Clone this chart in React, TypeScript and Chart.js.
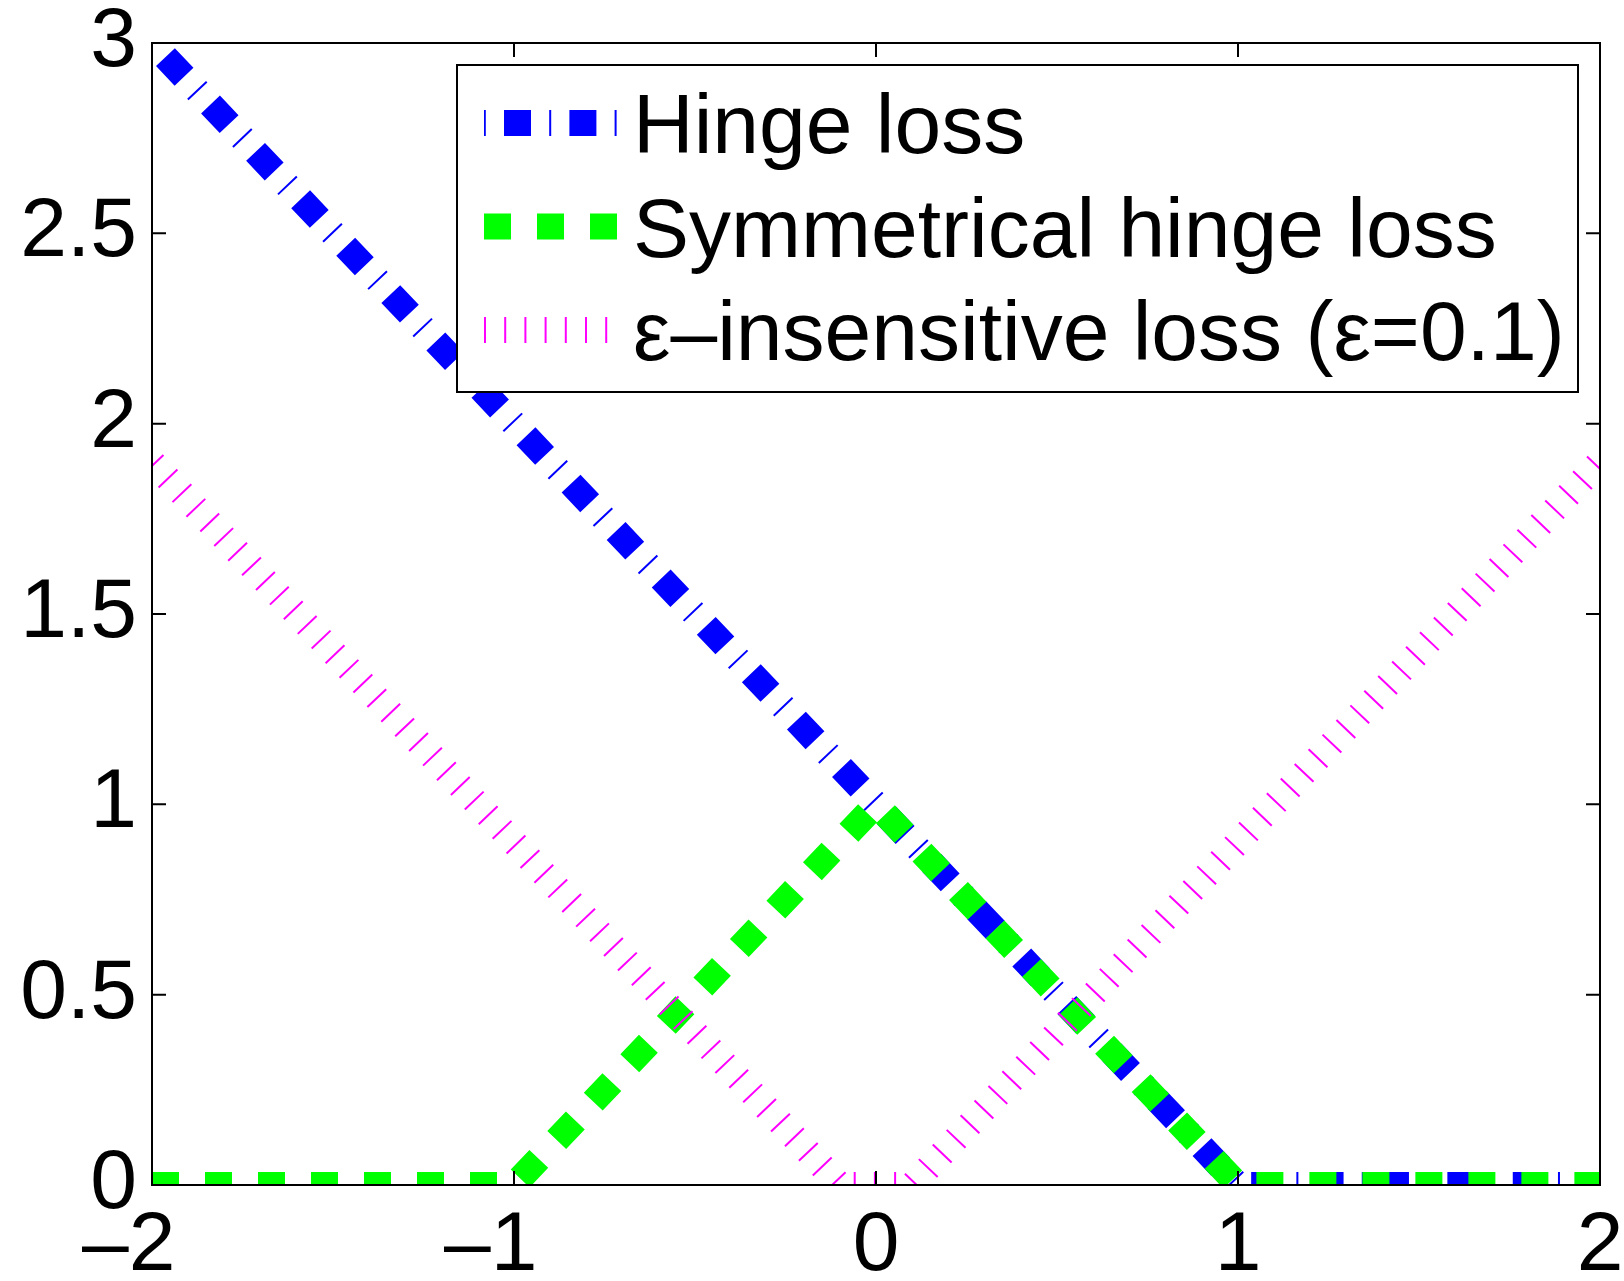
import React, { useEffect, useRef } from 'react';
import { Chart, registerables } from 'chart.js';

Chart.register(...registerables);

// ---- data ----
const seriesLabels = ['Hinge loss', 'Symmetrical hinge loss', 'ε–insensitive loss (ε=0.1)'];
const hingeX = [-2, 1, 2];
const hingeY = [3, 0, 0];
const symX = [-2, -1, 0, 1, 2];
const symY = [0, 0, 1, 0, 0];
const epsX = [-2, -0.1, 0.1, 2];
const epsY = [1.9, 0, 0, 1.9];
const xTicks = [-2, -1, 0, 1, 2];
const xTickLabels = ['–2', '–1', '0', '1', '2'];
const yTicks = [0, 0.5, 1, 1.5, 2, 2.5, 3];
const yTickLabels = ['0', '0.5', '1', '1.5', '2', '2.5', '3'];

const FONT = '"Liberation Sans", Arial, Helvetica, sans-serif';
const toPts = (xs: number[], ys: number[]) => xs.map((x, i) => ({ x, y: ys[i] }));

const legendPhase = [45.4, 0, 0];

const framePlugin = {
  id: 'matlabFrame',
  afterDatasetsDraw(chart: any) {
    const { ctx, chartArea: a, scales } = chart;
    const xs = scales.x;
    const ys = scales.y;
    ctx.save();
    ctx.strokeStyle = '#000';
    ctx.lineWidth = 2;
    ctx.lineCap = 'butt';
    ctx.setLineDash([]);
    ctx.beginPath();
    const tl = 14;
    for (const t of xs.ticks) {
      const px = xs.getPixelForValue(t.value);
      ctx.moveTo(px, a.bottom);
      ctx.lineTo(px, a.bottom - tl);
      ctx.moveTo(px, a.top);
      ctx.lineTo(px, a.top + tl);
    }
    for (const t of ys.ticks) {
      const py = ys.getPixelForValue(t.value);
      ctx.moveTo(a.left, py);
      ctx.lineTo(a.left + tl, py);
      ctx.moveTo(a.right, py);
      ctx.lineTo(a.right - tl, py);
    }
    ctx.stroke();
    ctx.strokeRect(a.left, a.top, a.right - a.left, a.bottom - a.top);

    // legend box (inside the axes, like MATLAB's "northeast" legend)
    const bx = a.left + 305;
    const by = a.top + 22;
    const bw = 1121;
    const bh = 327;
    ctx.fillStyle = '#fff';
    ctx.fillRect(bx, by, bw, bh);
    ctx.strokeRect(bx, by, bw, bh);
    const sx0 = bx + 27;
    const sx1 = bx + 161;
    const tx = bx + 176;
    chart.data.datasets.forEach((ds: any, i: number) => {
      const ry = by + 58 + i * 103.5;
      ctx.save();
      ctx.beginPath();
      ctx.strokeStyle = ds.borderColor;
      ctx.lineWidth = ds.borderWidth;
      ctx.lineCap = 'butt';
      ctx.setLineDash(ds.borderDash);
      ctx.lineDashOffset = legendPhase[i];
      ctx.moveTo(sx0, ry);
      ctx.lineTo(sx1, ry);
      ctx.stroke();
      ctx.restore();
      ctx.fillStyle = '#000';
      ctx.font = `84px ${FONT}`;
      ctx.textAlign = 'left';
      ctx.textBaseline = 'alphabetic';
      ctx.fillText(ds.label, tx, ry + 30);
    });
    ctx.restore();
  },
};

const zeroPad = (s: any) => {
  s.paddingLeft = 0;
  s.paddingRight = 0;
  s.paddingTop = 0;
  s.paddingBottom = 0;
};

export default function App() {
  const canvasRef = useRef<HTMLCanvasElement | null>(null);

  useEffect(() => {
    if (!canvasRef.current) return;
    const chart = new Chart(canvasRef.current, {
      type: 'line',
      data: {
        datasets: [
          {
            label: seriesLabels[0],
            data: toPts(hingeX, hingeY),
            borderColor: 'rgb(0,0,255)',
            borderWidth: 26,
            borderDash: [27, 18.2, 2, 18.2],
            borderDashOffset: 45.9,
            order: 3,
          },
          {
            label: seriesLabels[1],
            data: toPts(symX, symY),
            borderColor: 'rgb(0,255,0)',
            borderWidth: 26,
            borderDash: [27, 26],
            borderDashOffset: 0,
            order: 2,
          },
          {
            label: seriesLabels[2],
            data: toPts(epsX, epsY),
            borderColor: 'rgb(255,0,255)',
            borderWidth: 26,
            borderDash: [2, 18.2],
            borderDashOffset: 18.2,
            order: 1,
          },
        ].map((d) => ({
          ...d,
          pointRadius: 0,
          pointHoverRadius: 0,
          fill: false,
          tension: 0,
          clip: 0,
          borderCapStyle: 'butt',
          borderJoinStyle: 'miter',
        })) as any,
      },
      options: {
        responsive: false,
        animation: false,
        devicePixelRatio: 1,
        layout: { padding: { left: 0, top: 43, right: 24, bottom: 0 } },
        plugins: {
          legend: { display: false },
          tooltip: { enabled: false },
        },
        scales: {
          x: {
            type: 'linear',
            min: -2,
            max: 2,
            grid: { display: false, drawTicks: false },
            border: { display: false },
            afterBuildTicks: (s: any) => {
              s.ticks = xTicks.map((v) => ({ value: v }));
            },
            afterFit: (s: any) => {
              s.height = 96;
              zeroPad(s);
            },
            ticks: {
              autoSkip: false,
              maxRotation: 0,
              minRotation: 0,
              padding: 20,
              color: '#000',
              font: { family: FONT, size: 84, lineHeight: 1 },
              callback: (_v: any, i: number) =>
                xTickLabels[i] + (xTicks[i] < 0 ? '  ' : ''),
            },
          },
          y: {
            type: 'linear',
            min: 0,
            max: 3,
            grid: { display: false, drawTicks: false },
            border: { display: false },
            afterBuildTicks: (s: any) => {
              s.ticks = yTicks.map((v) => ({ value: v }));
            },
            afterFit: (s: any) => {
              s.width = 152;
              zeroPad(s);
            },
            ticks: {
              autoSkip: false,
              padding: 15,
              color: '#000',
              font: { family: FONT, size: 84, lineHeight: 1 },
              callback: (_v: any, i: number) => yTickLabels[i],
            },
          },
        },
      },
      plugins: [framePlugin],
    });
    return () => chart.destroy();
  }, []);

  return (
    <div style={{ position: 'absolute', left: 0, top: 0, width: 1624, height: 1281, background: '#fff' }}>
      <canvas ref={canvasRef} width={1624} height={1281} style={{ display: 'block' }} />
    </div>
  );
}
